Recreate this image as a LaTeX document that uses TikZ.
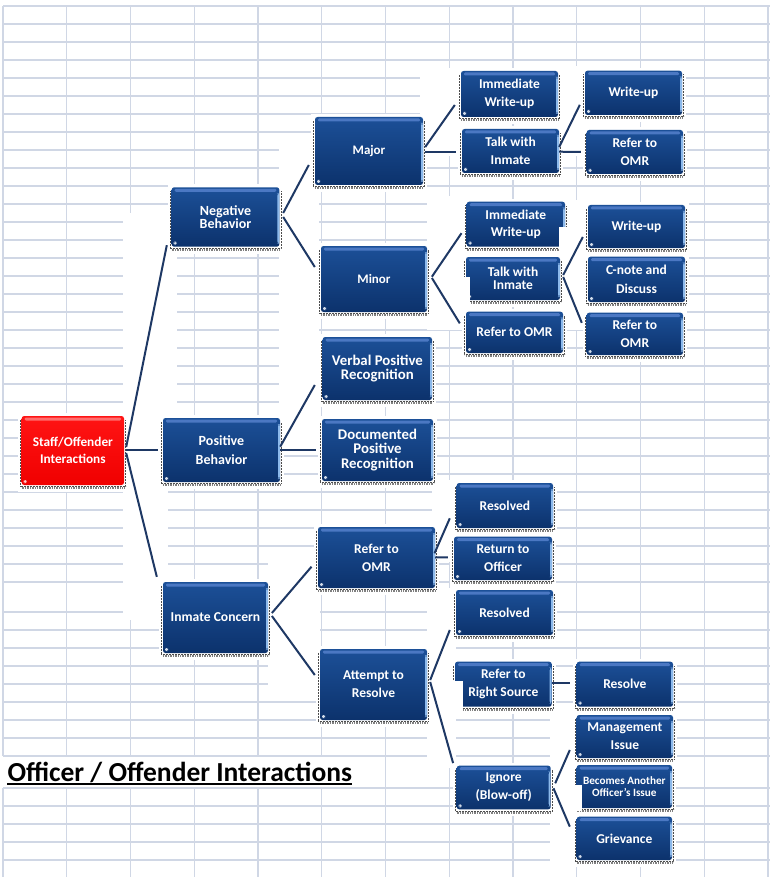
\documentclass[tikz,border=0pt]{standalone}
\usepackage{fontspec}
\setmainfont{Carlito}
\usetikzlibrary{calc}
\pgfdeclarelayer{gridlayer}
\pgfdeclarelayer{bglayer}
\pgfsetlayers{gridlayer,bglayer,main}
\definecolor{gridc}{RGB}{208,215,229}
\definecolor{boxtop}{RGB}{28,80,152}
\definecolor{boxbot}{RGB}{12,50,108}
\definecolor{boxhl}{RGB}{75,120,195}
\definecolor{boxedge}{RGB}{140,185,235}
\definecolor{conc}{RGB}{30,56,100}
\definecolor{redtop}{RGB}{255,20,20}
\definecolor{redbot}{RGB}{240,0,0}
\definecolor{redhl}{RGB}{255,110,110}
\tikzset{
  gridline/.style={draw=gridc, line width=1.3pt},
  conn/.style={draw=conc, line width=2pt},
  shadowdots/.style={draw=black!70, line width=0.5pt, dash pattern=on 0.5pt off 1pt},
  fringe/.style={draw=black!50, line width=2pt, dash pattern=on 0.6pt off 1.1pt},
  nodebox/.style={rectangle, rounded corners=2.5pt, top color=boxtop, bottom color=boxbot,
    draw=none, text=white, align=center, inner sep=0pt,
    path picture={
      \fill[boxhl, rounded corners=1.2pt] ([xshift=3pt,yshift=-1.5pt]path picture bounding box.north west) rectangle ([xshift=-3pt,yshift=-4.5pt]path picture bounding box.north east);
      \fill[boxedge] ([xshift=-2pt,yshift=-6pt]path picture bounding box.north east) rectangle ([yshift=3pt]path picture bounding box.south east);
      \fill[white!80!boxtop] ([xshift=2pt,yshift=2pt]path picture bounding box.south west) rectangle ++(3pt,3pt);
    }},
  rootbox/.style={nodebox, top color=redtop, bottom color=redbot,
    path picture={
      \fill[redhl, rounded corners=1.2pt] ([xshift=3pt,yshift=-1.5pt]path picture bounding box.north west) rectangle ([xshift=-3pt,yshift=-4.5pt]path picture bounding box.north east);
      \fill[white!80!red] ([xshift=2pt,yshift=2pt]path picture bounding box.south west) rectangle ++(3pt,3pt);
    }},
  titletext/.style={font=\bfseries\fontsize{27.5}{32}\selectfont, anchor=base west, inner sep=0pt, text=black}
}
% #1 style, #2 name, #3 x1, #4 y1, #5 x2, #6 y2, #7 font size, #8 line skip, #9 text
\newcommand\nodeBox[9][nodebox]{%
  \begin{pgfonlayer}{bglayer}\fill[white] ({#3-4},{#4-3}) rectangle ({#5+4},{#6+7});\end{pgfonlayer}
  \node[#1, minimum width={(#5)-(#3)}, minimum height={(#6)-(#4)},
        font=\bfseries\fontsize{#7}{#8}\selectfont] (#2) at ({((#3)+(#5))/2},{((#4)+(#6))/2}) {#9};
  \draw[shadowdots] ([xshift=-1.5pt,yshift=-4pt]#2.north west) -- ([xshift=-1.5pt,yshift=-1.5pt]#2.south west)
     -- ([xshift=1.5pt,yshift=-1.5pt]#2.south east) -- ([xshift=1.5pt,yshift=-4pt]#2.north east);
  \draw[fringe] ([yshift=-3pt]#2.south west) -- ([yshift=-3pt]#2.south east);
}
\begin{document}
\begin{tikzpicture}[x=1pt,y=-1pt]
\useasboundingbox (0,0) rectangle (770,877);
\begin{pgfonlayer}{gridlayer}
  \fill[white] (0,0) rectangle (770,877);
  \foreach \k in {0,...,12} {
    \pgfmathsetmacro\xx{3+63.75*\k}
    \ifnum\k<6
      \draw[gridline] (\xx,6) -- (\xx,756);
      \draw[gridline] (\xx,788) -- (\xx,877);
    \else
      \draw[gridline] (\xx,6) -- (\xx,877);
    \fi
  }
  \foreach \yy in {6,24,...,582} \draw[gridline] (3,\yy) -- (770,\yy);
  \foreach \yy in {612,630,...,756} \draw[gridline] (3,\yy) -- (770,\yy);
  \foreach \yy in {788,806,...,878} \draw[gridline] (3,\yy) -- (770,\yy);
\end{pgfonlayer}
% white areas behind connectors
\begin{pgfonlayer}{bglayer}
  \foreach \a/\b/\c/\d in {123/213/177/410, 123/410/168/620, 279/145/319/455, 420/68/461/156,
      555/66/586/156, 427/196/466/330, 558/200/588/330, 268/555/320/690, 432/480/456/562,
      427/588/456/768, 550/676/577/690, 550/712/577/862}
    \fill[white] (\a,\b) rectangle (\c,\d);
\end{pgfonlayer}

\nodeBox[rootbox]{root}{21.7}{416}{124}{485}{13.3}{17.6}{Staff/Offender\\Interactions}
\nodeBox{nb}{171.7}{187.3}{279.3}{246.7}{14}{12.3}{Negative\\Behavior}
\nodeBox{pb}{163}{418}{280}{482}{14}{19}{Positive\\Behavior}
\nodeBox{ic}{163}{582}{268}{653}{13.6}{16}{Inmate Concern}
\nodeBox{major}{315}{117}{423}{185}{13}{15}{Major}
\nodeBox{minor}{321}{246}{427}{312}{13}{15}{Minor}
\nodeBox{verbal}{322.7}{337}{432}{400}{14.8}{14.3}{Verbal Positive\\Recognition}
\nodeBox{doc}{322}{419}{433}{481}{14.8}{14.3}{Documented\\Positive\\Recognition}
\nodeBox{omr4}{318}{527}{435}{588}{13.5}{18}{Refer to\\OMR}
\nodeBox{attempt}{320}{649}{427}{720}{13.5}{18.3}{Attempt to\\Resolve}
\nodeBox{iwu1}{461}{71}{558}{117}{13.5}{18.3}{Immediate\\Write-up}
\nodeBox{talk1}{462}{129}{559}{173}{13.5}{18}{Talk with\\Inmate}
\nodeBox{wu1}{585}{70.7}{682}{115}{13.5}{15}{Write-up}
\nodeBox{omr1}{586.7}{130}{683}{174}{13.5}{18}{Refer to\\OMR}
\nodeBox{iwu2}{466.7}{201.7}{565}{246.7}{13.5}{17.6}{Immediate\\Write-up}
\nodeBox{talk2}{466}{257}{560}{300}{13.5}{12.7}{Talk with\\Inmate}
\nodeBox{wu2}{588}{205}{685}{248}{13.5}{15}{Write-up}
\nodeBox{cnote}{588}{256.7}{685}{302}{13.5}{18.3}{C-note and\\Discuss}
\nodeBox{omr2}{466}{311.7}{563}{353}{13.5}{15}{Refer to OMR}
\nodeBox{omr3}{586.7}{312.7}{683}{355}{13.5}{18}{Refer to\\OMR}
\nodeBox{res1}{456.7}{483}{553}{528}{13.5}{15}{Resolved}
\nodeBox{ret}{454}{536.7}{552}{580}{13.5}{18}{Return to\\Officer}
\nodeBox{res2}{456}{590}{553}{635}{13.5}{15}{Resolved}
\nodeBox{rrs}{455}{661.7}{551.7}{706.7}{13.5}{17.7}{Refer to\\Right Source}
\nodeBox{resolve}{576.7}{661.7}{673}{706.7}{13.5}{15}{Resolve}
\nodeBox{ignore}{456.7}{765.7}{550.7}{809.3}{13.5}{18}{Ignore\\(Blow-off)}
\nodeBox{mgmt}{576.7}{715}{673}{758}{13.5}{18}{Management\\Issue}
\nodeBox{becomes}{576.7}{765}{672}{808}{11.2}{11.6}{Becomes Another\\Officer's Issue}
\nodeBox{griev}{576.7}{816.7}{672}{860}{13.5}{15}{Grievance}

% white notches over some boxes
\fill[white] ($(talk2.west)+(-5,-1.5)$) rectangle ($(talk2.south west)+(4.5,5)$);
\fill[white] ($(rrs.west)+(-5,-3)$) rectangle ($(rrs.south west)+(8,4)$);
\fill[white] ($(becomes.west)+(-5,-1.5)$) rectangle ($(becomes.south west)+(5,3)$);
\fill[white] ($(iwu2.east)+(-6,2.8)$) rectangle ($(iwu2.south east)+(3,4)$);

% connectors
\draw[conn] ($(root.east)+(2,-3.5)$) -- ($(nb.south west)+(-4.7,-1.7)$);
\draw[conn] ($(root.east)+(2,-0.5)$) -- ($(pb.west)+(-5,0)$);
\draw[conn] ($(root.east)+(2,2.5)$) -- ($(ic.north west)+(-6,-5)$);
\draw[conn] ($(nb.east)+(3.7,-4)$) -- ($(major.west)+(-6,14)$);
\draw[conn] ($(nb.east)+(3.7,0)$) -- ($(minor.west)+(-6,-12)$);
\draw[conn] ($(major.east)+(2,-4)$) -- ($(iwu1.west)+(-6,11)$);
\draw[conn] ($(major.east)+(2,0.7)$) -- ($(talk1.west)+(-6,0.7)$);
\draw[conn] ($(talk1.east)+(0,-4)$) -- ($(wu1.west)+(-5,12)$);
\draw[conn] ($(talk1.east)+(0,0.7)$) -- ($(omr1.west)+(-5.7,0)$);
\draw[conn] ($(minor.east)+(4.7,-2.3)$) -- ($(iwu2.west)+(-5,9)$);
\draw[conn] ($(minor.east)+(4.7,-1)$) -- ($(omr2.west)+(-6,-9)$);
\draw[conn] ($(talk2.east)+(3,-3.5)$) -- ($(wu2.west)+(-5,10.5)$);
\draw[conn] ($(talk2.east)+(3,-1.5)$) -- ($(omr3.west)+(-4.7,-11)$);
\draw[conn] ($(pb.east)+(0,-3.3)$) -- ($(verbal.west)+(-7.7,16.5)$);
\draw[conn, line width=2.6pt] ($(pb.east)+(0,0)$) -- ($(doc.west)+(-6,0)$);
\draw[conn] ($(ic.east)+(3.7,-4.5)$) -- ($(omr4.west)+(-6.3,9.2)$);
\draw[conn] ($(ic.east)+(3.7,-1.5)$) -- ($(attempt.west)+(-5,-9.5)$);
\draw[conn] ($(omr4.east)+(-0.7,-4.2)$) -- ($(res1.west)+(-6.7,12.8)$);
\draw[conn] ($(omr4.east)+(0,0)$) -- ($(ret.west)+(-6,-1)$);
\draw[conn] ($(attempt.east)+(3,-4.5)$) -- ($(res2.west)+(-6,17.5)$);
\draw[conn] ($(attempt.east)+(3,-2.5)$) -- ($(ignore.north west)+(-3.4,-2.4)$);
\draw[conn] ($(rrs.east)+(0,-1)$) -- ($(resolve.west)+(-6.7,-1)$);
\draw[conn] ($(ignore.east)+(4.3,-4.2)$) -- ($(mgmt.west)+(-6.7,13.5)$);
\draw[conn] ($(ignore.east)+(2.6,0.8)$) -- ($(griev.west)+(-6.7,-11.7)$);

% title
\node[titletext] (title) at (7.3,781.7) {Officer / Offender Interactions};
\draw[line width=1.8pt] ([yshift=-2.3pt]title.base west) -- ([yshift=-2.3pt]title.base east);
\end{tikzpicture}
\end{document}
